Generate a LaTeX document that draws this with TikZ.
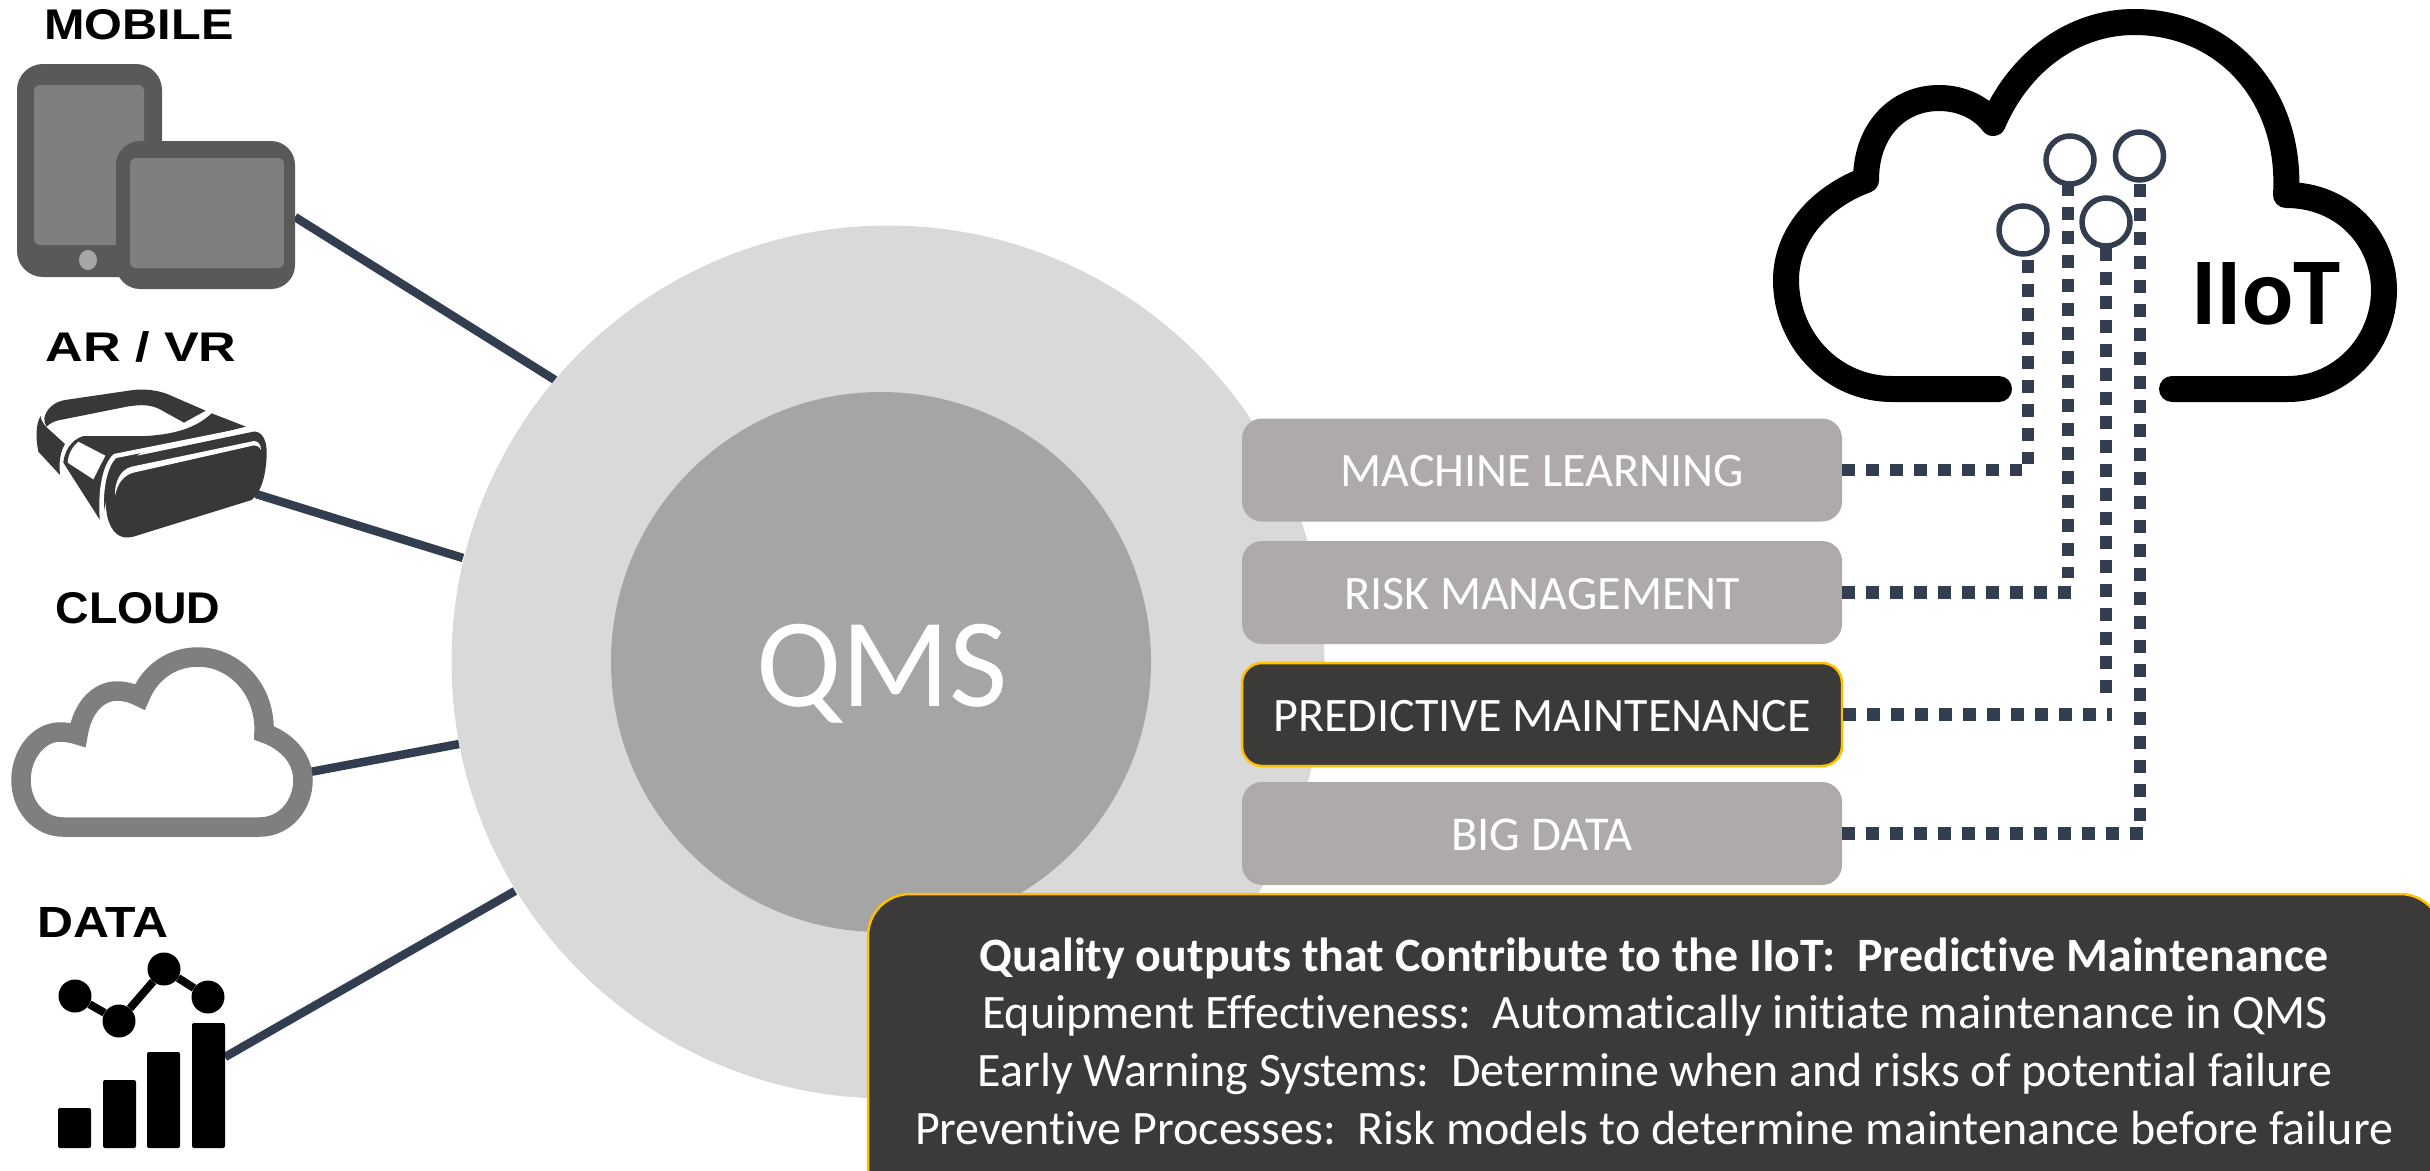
\documentclass[tikz,border=0pt]{standalone}
\usepackage{graphicx}
\usepackage{fontspec}
\setmainfont{Carlito}[Ligatures=NoCommon]
\newfontfamily\labelfont{Liberation Sans}
\definecolor{navy}{HTML}{323E4F}
\definecolor{ringgrey}{HTML}{D9D9D9}
\definecolor{coregrey}{HTML}{A5A5A5}
\definecolor{boxgrey}{HTML}{AEAAAA}
\definecolor{panelgrey}{HTML}{3B3A38}
\definecolor{gold}{HTML}{FFC000}
\definecolor{devdark}{HTML}{595959}
\definecolor{devscreen}{HTML}{7F7F7F}
\definecolor{devbutton}{HTML}{A6A6A6}
\definecolor{goggle}{HTML}{383838}
\newcommand{\caplabel}[3]{\resizebox{#1pt}{#2pt}{\labelfont\bfseries #3}}
\newcommand{\fitw}[2]{\resizebox{#1pt}{!}{\fontsize{44}{50}\selectfont #2}}
\newcommand{\boxtxt}[2]{\raisebox{0pt}[\dimexpr\height+2.5pt\relax]{\fitw{#1}{#2}}}
\tikzset{
  x=1pt,y=-1pt,
  iconlink/.style={draw=navy,line width=8.5},
  dotlink/.style={draw=navy,line width=12.5,dash pattern=on 12.5pt off 11.5pt},
  itembox/.style={rectangle,rounded corners=20,fill=boxgrey,minimum width=600,minimum height=103,inner sep=0,text=white},
  hotbox/.style={itembox,fill=panelgrey,draw=gold,line width=2.5},
  pin/.style={circle,draw=navy,line width=5.5,minimum size=48,inner sep=0},
  iconlabel/.style={inner sep=0,text=black},
  paneltext/.style={anchor=base,inner sep=0,text=white},
}
\begin{document}
\begin{tikzpicture}
\useasboundingbox (0,0) rectangle (2430,1170);
\clip (0,0) rectangle (2430,1170);
% anchor points of the icon links
\coordinate (mobEnd) at (295,217);
\coordinate (ringA) at (555,380);
\coordinate (vrEnd) at (256,494);
\coordinate (ringB) at (463,558);
\coordinate (cloudEnd) at (310,772);
\coordinate (ringC) at (459,744);
\coordinate (dataEnd) at (225,1057);
\coordinate (ringD) at (515,891);
\draw[iconlink] (mobEnd) -- (ringA);
\draw[iconlink] (vrEnd) -- (ringB);
\draw[iconlink] (cloudEnd) -- (ringC);
\draw[iconlink] (dataEnd) -- (ringD);
% circles
\node[circle,fill=ringgrey,minimum size=873,inner sep=0] (ring) at (888,662) {};
\node[circle,fill=coregrey,minimum size=540,inner sep=0] (core) at (881,662) {};
\node[anchor=base,inner sep=0,text=white] (qms) at (882,706) {\resizebox{252pt}{!}{\fontsize{120}{130}\selectfont QMS}};
% item boxes
\node[itembox] (b1) at (1542,470) {\boxtxt{403}{MACHINE LEARNING}};
\node[itembox] (b2) at (1542,592.5) {\boxtxt{396}{RISK MANAGEMENT}};
\node[hotbox] (b3) at (1542,714.5) {\boxtxt{537}{PREDICTIVE MAINTENANCE}};
\node[itembox] (b4) at (1542,833.5) {\boxtxt{182}{BIG DATA}};
% panel
\draw[fill=panelgrey,draw=gold,line width=2.5,rounded corners=42] (868,1220) -- (868,894) -- (2442,894) -- (2442,1220) -- cycle;
\node[paneltext] (t1) at (1654,971) {\fitw{1348}{\bfseries Quality outputs that Contribute to the IIoT:\ \ Predictive Maintenance}};
\node[paneltext] (t2) at (1655,1028) {\fitw{1346}{Equipment Effectiveness:\ \ Automatically initiate maintenance in QMS}};
\node[paneltext] (t3) at (1655,1086) {\fitw{1354}{Early Warning Systems:\ \ Determine when and risks of potential failure}};
\node[paneltext] (t4) at (1654,1144) {\fitw{1478}{Preventive Processes:\ \ Risk models to determine maintenance before failure}};
% mobile icon
\node[iconlabel] (lmobile) at (139,25) {\caplabel{189}{30}{MOBILE}};
\fill[devdark,rounded corners=26] (17,64) rectangle (162,277);
\fill[devscreen,rounded corners=6] (34,85) rectangle (144,245);
\fill[devbutton] (88,260) ellipse [x radius=9,y radius=10];
\fill[devdark,rounded corners=24] (116,141) rectangle (295,289);
\fill[devscreen,rounded corners=6] (130,158) rectangle (284,268);
% AR / VR icon
\node[iconlabel] (lvr) at (141,347) {\caplabel{191}{30}{AR / VR}};
\begin{scope}[shift={(0,340)},x=0.33333pt,y=-0.33333pt]
% left band
\fill[goggle] (122,228) .. controls (108,250) and (106,290) .. (115,335) -- (180,405) .. controls (176,365) and (181,335) .. (195,312) -- (140,262) .. controls (130,252) and (123,240) .. (122,228) -- cycle;
% top band
\fill[goggle] (133,235) .. controls (138,205) and (165,185) .. (195,180) -- (400,150) .. controls (450,145) and (490,155) .. (520,170) -- (617,212) -- (552,248) -- (480,208) .. controls (455,195) and (425,192) .. (380,200) -- (180,240) .. controls (160,244) and (150,250) .. (140,260) .. controls (134,252) and (133,245) .. (133,235) -- cycle;
% body
\fill[goggle] (635,220) -- (738,260) -- (420,340) -- (330,420) -- (305,548) -- (190,368) .. controls (192,340) and (210,300) .. (250,288) -- (440,288) .. controls (530,282) and (590,262) .. (635,220) -- cycle;
% window
\fill[white] (235,305) -- (316,347) -- (280,418) -- (203,368) .. controls (205,340) and (218,320) .. (235,305) -- cycle;
% gap round the visor
\draw[white,line width=4.5,line join=round] (745,268) -- (345,348) .. controls (315,375) and (298,450) .. (307,550);
% visor
\fill[goggle] (360,358) -- (760,275) .. controls (785,272) and (800,300) .. (800,335) .. controls (800,400) and (785,455) .. (755,480) -- (400,590) .. controls (360,600) and (335,580) .. (322,530) .. controls (310,470) and (315,390) .. (360,358) -- cycle;
% highlight
\fill[white] (345,468) .. controls (343,425) and (362,388) .. (395,380) -- (762,303) .. controls (775,303) and (783,315) .. (783,330) .. controls (778,320) and (772,316) .. (762,316) -- (400,398) .. controls (372,405) and (352,430) .. (345,468) -- cycle;
\end{scope}
% cloud icon
\node[iconlabel] (lcloud) at (138,608) {\caplabel{165}{31}{CLOUD}};
\draw[devscreen,line width=19.5,line join=miter,miter limit=2] (63,827) -- (260,827) .. controls (285,827) and (303,805) .. (303,780) .. controls (303,757) and (285,740) .. (264,733) .. controls (266,690) and (235,657) .. (198,657) .. controls (172,657) and (150,672) .. (140,697) .. controls (132,693) and (125,691) .. (117,691) .. controls (98,691) and (82,708) .. (78,735) .. controls (72,733) and (66,732) .. (60,732) .. controls (38,732) and (21,755) .. (21,780) .. controls (21,807) and (40,827) .. (63,827) -- cycle;
% data icon
\node[iconlabel] (ldata) at (103,922.5) {\caplabel{131}{30}{DATA}};
\fill[black,rounded corners=2] (58,1108) rectangle (91,1148);
\fill[black,rounded corners=2] (103,1080) rectangle (136,1148);
\fill[black,rounded corners=2] (147,1052) rectangle (180,1148);
\fill[black,rounded corners=2] (192,1023) rectangle (225,1148);
\node[circle,fill=black,minimum size=33,inner sep=0] (d1) at (75,996) {};
\node[circle,fill=black,minimum size=33,inner sep=0] (d2) at (119,1021) {};
\node[circle,fill=black,minimum size=33,inner sep=0] (d3) at (164,969) {};
\node[circle,fill=black,minimum size=33,inner sep=0] (d4) at (208,997) {};
\draw[black,line width=8] (d1) -- (d2) -- (d3) -- (d4);
% IIoT cloud
\draw[black,line width=26,line cap=round,line join=round] (1999,389) -- (1892,389) .. controls (1833,389) and (1786,340) .. (1786,280) .. controls (1786,235) and (1820,197) .. (1866,180) .. controls (1866,130) and (1898,98) .. (1939,98) .. controls (1962,98) and (1982,108) .. (1993,123) .. controls (2020,60) and (2075,22) .. (2134,22) .. controls (2225,22) and (2292,95) .. (2286,195) .. controls (2345,195) and (2384,240) .. (2384,290) .. controls (2384,345) and (2340,389) .. (2288,389) -- (2172,389);
\node[inner sep=0,text=black] (iiot) at (2266,294) {\resizebox{149pt}{62pt}{\bfseries IIoT}};
% pins
\node[pin] (p1) at (2023,230) {};
\node[pin] (p2) at (2070,160) {};
\node[pin] (p3) at (2106,222) {};
\node[pin] (p4) at (2139.5,156) {};
% dotted links
\coordinate (v1top) at (2028,260);
\coordinate (v1end) at (2028,464);
\coordinate (h1end) at (2022,470);
\coordinate (v2top) at (2068,183);
\coordinate (v2end) at (2068,578);
\coordinate (h2end) at (2074,592.5);
\coordinate (v3top) at (2106,248);
\coordinate (v3end) at (2106,702);
\coordinate (h3end) at (2112,714.5);
\coordinate (v4top) at (2140,184);
\coordinate (v4end) at (2140,822);
\coordinate (h4end) at (2146,833.5);
\draw[dotlink] (b1.east) -- (h1end);
\draw[dotlink] (v1top) -- (v1end);
\draw[dotlink] (b2.east) -- (h2end);
\draw[dotlink] (v2top) -- (v2end);
\draw[dotlink] (b3.east) -- (h3end);
\draw[dotlink] (v3top) -- (v3end);
\draw[dotlink] (b4.east) -- (h4end);
\draw[dotlink] (v4top) -- (v4end);
\end{tikzpicture}
\end{document}
